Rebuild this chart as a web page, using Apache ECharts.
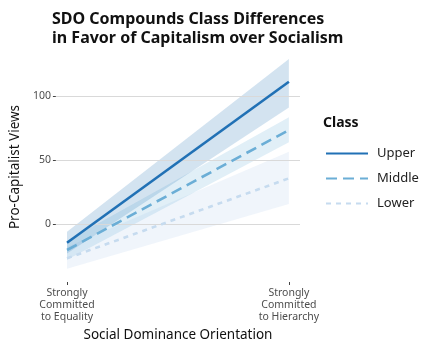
<!DOCTYPE html>
<html><head><meta charset="utf-8">
<script src="https://cdn.jsdelivr.net/npm/echarts@6/dist/echarts.min.js"></script>
<style>html,body{margin:0;padding:0;background:#fff}#c{width:434px;height:347px}</style>
</head><body><div id="c"></div>
<script>
const xPoints = [0, 1];
const xTickLabels = ['Strongly\nCommitted\nto Equality', 'Strongly\nCommitted\nto Hierarchy'];
const classes = ['Upper', 'Middle', 'Lower'];
const upperFit = [-14.6, 111.2];
const upperLow = [-23, 91];
const upperHigh = [-6, 129];
const middleFit = [-20.3, 73.4];
const middleLow = [-28, 63.9];
const middleHigh = [-13, 83.4];
const lowerFit = [-26.8, 35.7];
const lowerLow = [-35, 15.6];
const lowerHigh = [-18, 56.5];
const yTicks = [0, 50, 100];

const colors = ['#2171b5', '#6baed6', '#c6dbef'];
const bandColors = ['rgba(33,113,181,0.2)', 'rgba(107,174,214,0.2)', 'rgba(198,219,239,0.27)'];
const fits = [upperFit, middleFit, lowerFit];
const lows = [upperLow, middleLow, lowerLow];
const highs = [upperHigh, middleHigh, lowerHigh];
const dashes = ['solid', [11, 6], [5, 5]];
const FONT = '"Noto Sans", "Open Sans", sans-serif';

const series = [];
for (let i = 2; i >= 0; i--) {
  const lo = lows[i], hi = highs[i];
  series.push({
    type: 'custom', name: classes[i] + ' band', silent: true, z: 1,
    data: [[xPoints[0], lo[0], hi[0], xPoints[1], lo[1], hi[1]]],
    encode: { x: [0, 3], y: [1, 2, 4, 5] },
    renderItem: function (params, api) {
      const p1 = api.coord([api.value(0), api.value(1)]);
      const p2 = api.coord([api.value(0), api.value(2)]);
      const p3 = api.coord([api.value(3), api.value(5)]);
      const p4 = api.coord([api.value(3), api.value(4)]);
      return { type: 'polygon', shape: { points: [p1, p2, p3, p4] }, style: { fill: bandColors[i] } };
    }
  });
}
series.push({
  type: 'line', name: 'gridlines', data: [], silent: true,
  markLine: { silent: true, symbol: 'none', label: { show: false },
    lineStyle: { color: '#d9d9d9', width: 1, type: 'solid' },
    data: yTicks.map(v => ({ yAxis: v })) },
  z: 0
});
for (let i = 2; i >= 0; i--) {
  series.push({
    type: 'line', name: classes[i], z: 5 + (2 - i),
    data: xPoints.map((x, k) => [x, fits[i][k]]),
    showSymbol: false, symbol: 'none',
    lineStyle: { color: colors[i], width: 2.6, type: dashes[i] },
    itemStyle: { color: colors[i] }
  });
}

const chart = echarts.init(document.getElementById('c'));
chart.setOption({
  animation: false,
  title: [
    { text: 'SDO Compounds Class Differences\nin Favor of Capitalism over Socialism', left: 47, top: 5,
      textStyle: { fontFamily: FONT, fontWeight: 'bold', fontSize: 16, lineHeight: 19, color: '#111' } },
    { text: 'Class', left: 318, top: 111,
      textStyle: { fontFamily: FONT, fontWeight: 'bold', fontSize: 14, color: '#111' } }
  ],
  legend: {
    data: classes, orient: 'vertical', left: 320, top: 142, itemWidth: 42, itemHeight: 14, itemGap: 12,
    itemStyle: { opacity: 0, borderWidth: 0 },
    textStyle: { fontFamily: FONT, fontSize: 13, color: '#222', padding: [0, 0, 0, 4] },
    selectedMode: false
  },
  grid: { left: 47, right: 134, top: 52, bottom: 65 },
  xAxis: {
    type: 'value', min: -0.05, max: 1.05,
    name: 'Social Dominance Orientation', nameLocation: 'middle', nameGap: 46,
    nameTextStyle: { fontFamily: FONT, fontSize: 13.5, color: '#111' },
    axisLine: { show: false, onZero: false }, splitLine: { show: false },
    axisTick: { show: true, customValues: xPoints, length: 3, lineStyle: { color: '#444' } },
    axisLabel: { customValues: xPoints, fontFamily: FONT, fontSize: 10.5, lineHeight: 12, color: '#4d4d4d', margin: 5,
      formatter: v => xTickLabels[xPoints.indexOf(v)] || '' }
  },
  yAxis: {
    type: 'value', min: -45.3, max: 134.4,
    name: 'Pro-Capitalist Views', nameLocation: 'middle', nameGap: 32,
    nameTextStyle: { fontFamily: FONT, fontSize: 13.5, color: '#111' },
    axisLine: { show: false, onZero: false }, splitLine: { show: false },
    axisTick: { show: true, customValues: yTicks, length: 3, lineStyle: { color: '#444' } },
    axisLabel: { customValues: yTicks, fontFamily: FONT, fontSize: 10.5, color: '#4d4d4d', margin: 5 }
  },
  series: series
});
</script></body></html>
